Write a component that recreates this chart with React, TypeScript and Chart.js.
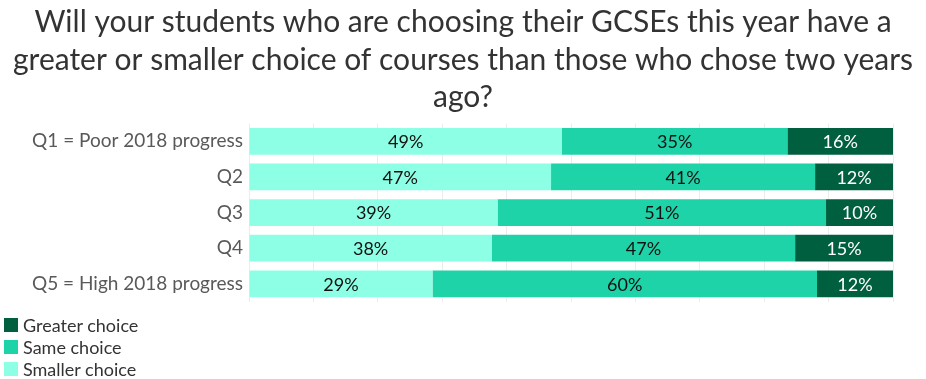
import React, { useEffect, useRef } from "react";
import { Chart, registerables } from "chart.js";

Chart.register(...registerables);

const titleLines = [
  "Will your students who are choosing their GCSEs this year have a",
  "greater or smaller choice of courses than those who chose two years",
  "ago?",
];
const categories = [
  "Q1 = Poor 2018 progress",
  "Q2",
  "Q3",
  "Q4",
  "Q5 = High 2018 progress",
];
const smallerChoice = [48.6, 46.9, 38.6, 37.7, 28.5];
const sameChoice = [35.0, 41.0, 51.0, 47.1, 59.7];
const greaterChoice = [16.4, 12.1, 10.4, 15.2, 11.8];

const colSmaller = "#8cffe4";
const colSame = "#1fd3a8";
const colGreater = "#005f3e";

const legendItems = [
  { label: "Greater choice", color: colGreater },
  { label: "Same choice", color: colSame },
  { label: "Smaller choice", color: colSmaller },
];

const FONT = "Lato, 'Noto Sans', sans-serif";

const labelPlugin = {
  id: "segLabels",
  afterDatasetsDraw(chart: any) {
    const ctx = chart.ctx;
    ctx.save();
    ctx.font = `18px ${FONT}`;
    ctx.textAlign = "center";
    ctx.textBaseline = "middle";
    chart.data.datasets.forEach((ds: any, di: number) => {
      const meta = chart.getDatasetMeta(di);
      meta.data.forEach((bar: any, i: number) => {
        const v = ds.data[i];
        const x = (bar.x + bar.base) / 2;
        ctx.fillStyle = ds.labelColor;
        ctx.fillText(Math.round(v) + "%", x, bar.y + 1);
      });
    });
    ctx.restore();
  },
};

export default function App() {
  const ref = useRef<HTMLCanvasElement>(null);
  useEffect(() => {
    const chart = new Chart(ref.current!, {
      type: "bar",
      data: {
        labels: categories,
        datasets: [
          { label: "Smaller choice", data: smallerChoice, backgroundColor: colSmaller, labelColor: "#111" } as any,
          { label: "Same choice", data: sameChoice, backgroundColor: colSame, labelColor: "#111" } as any,
          { label: "Greater choice", data: greaterChoice, backgroundColor: colGreater, labelColor: "#fff" } as any,
        ],
      },
      options: {
        indexAxis: "y",
        animation: false,
        responsive: false,
        maintainAspectRatio: false,
        categoryPercentage: 0.75,
        barPercentage: 1,
        layout: { padding: 0 },
        plugins: {
          legend: { display: false },
          tooltip: { enabled: false },
          title: {
            display: true,
            text: titleLines,
            color: "#333333",
            font: { family: FONT, size: 30, weight: "normal", lineHeight: 1.25 },
            padding: { top: 4, bottom: 7 },
          },
        },
        scales: {
          x: {
            stacked: true,
            min: 0,
            max: 100,
            ticks: { display: false, stepSize: 10 },
            grid: { color: "#ececec", drawTicks: false },
            border: { display: false },
          },
          y: {
            stacked: true,
            ticks: { color: "#595959", font: { family: FONT, size: 19 }, padding: 6 },
            grid: { display: false, drawTicks: false },
            border: { display: false },
            afterFit: (s: any) => {
              s.width = 249;
            },
          },
          yRight: {
            position: "right",
            display: true,
            ticks: { display: false },
            grid: { display: false, drawTicks: false },
            border: { display: false },
            afterFit: (s: any) => {
              s.width = 33;
            },
          },
        },
      },
      plugins: [labelPlugin],
    } as any);
    return () => chart.destroy();
  }, []);

  return (
    <div style={{ position: "absolute", left: 0, top: 0, width: 926, height: 379, background: "#fff" }}>
      <canvas ref={ref} width={926} height={319} style={{ display: "block" }} />
      <div style={{ position: "absolute", left: 4, top: 314, fontFamily: FONT, fontSize: 18, color: "#333" }}>
        {legendItems.map((it) => (
          <div key={it.label} style={{ display: "flex", alignItems: "center", height: 22 }}>
            <span style={{ display: "inline-block", width: 14, height: 14, background: it.color, marginRight: 5 }} />
            <span>{it.label}</span>
          </div>
        ))}
      </div>
    </div>
  );
}
